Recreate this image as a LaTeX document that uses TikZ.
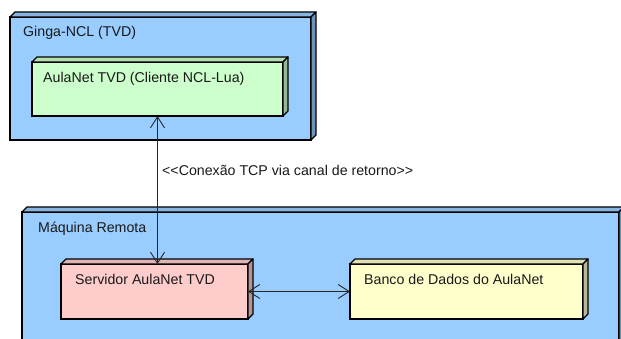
\documentclass[tikz,border=0pt]{standalone}
\usepackage{fontspec}
\setmainfont{Liberation Sans}
\usetikzlibrary{arrows.meta}
\definecolor{blueN}{RGB}{153,204,255}
\definecolor{greenN}{RGB}{204,255,204}
\definecolor{redN}{RGB}{255,204,204}
\definecolor{yellowN}{RGB}{255,255,204}
\definecolor{txt}{RGB}{25,25,25}
\newcommand{\depthfaces}[2]{%
  \draw[faceline, fill=#2!88!black] (#1.north west) -- ++(5,-5) -- ([shift={(5,-5)}]#1.north east) -- (#1.north east) -- cycle;
  \draw[faceline, fill=#2!72!black] (#1.north east) -- ++(5,-5) -- ([shift={(5,-5)}]#1.south east) -- (#1.south east) -- cycle;
}
\tikzset{
  boxnode/.style={draw=black, line width=1.3pt, fill=#1, anchor=north west, inner sep=0pt, outer sep=0pt},
  faceline/.style={draw=black, line width=1.3pt, line join=round},
  lab/.style={anchor=base west, inner sep=0pt, text=txt, font=\fontsize{14.2}{17}\selectfont},
  conn/.style={draw=black!85, line width=0.9pt, {Straight Barb[length=11pt,width=14pt]}-{Straight Barb[length=11pt,width=14pt]}}
}
\begin{document}
\begin{tikzpicture}[x=1pt,y=-1pt]
\useasboundingbox (0,0) rectangle (621,339);
\clip (0,0) rectangle (621,339);
\fill[white] (0,0) rectangle (621,339);
% Ginga-NCL
\node[boxnode=blueN, minimum width=301pt, minimum height=123pt] (ginga) at (10,17) {};
\depthfaces{ginga}{blueN}
\node[lab] (gingat) at (23,37) {Ginga-NCL (TVD)};
\node[boxnode=greenN, minimum width=251pt, minimum height=54pt] (green) at (32,62) {};
\depthfaces{green}{greenN}
\node[lab] (greent) at (43,82.5) {AulaNet TVD (Cliente NCL-Lua)};
% Maquina Remota
\node[boxnode=blueN, minimum width=597pt, minimum height=150pt] (maq) at (22,212) {};
\depthfaces{maq}{blueN}
\node[lab] (maqt) at (38,233) {Máquina Remota};
\node[boxnode=redN, minimum width=187pt, minimum height=55pt] (red) at (61,264) {};
\depthfaces{red}{redN}
\node[lab] (redt) at (75,284) {Servidor AulaNet TVD};
\node[boxnode=yellowN, minimum width=233pt, minimum height=55pt] (yellow) at (350,264) {};
\depthfaces{yellow}{yellowN}
\node[lab] (yellowt) at (364,284) {Banco de Dados do AulaNet};
% connectors
\draw[conn] (green.south) -- (red.north -| green.south);
\node[lab] (lbl) at (162,176) {<{}<Conexão TCP via canal de retorno>{}>};
\draw[conn] (red.east) -- (yellow.west);
\end{tikzpicture}
\end{document}
